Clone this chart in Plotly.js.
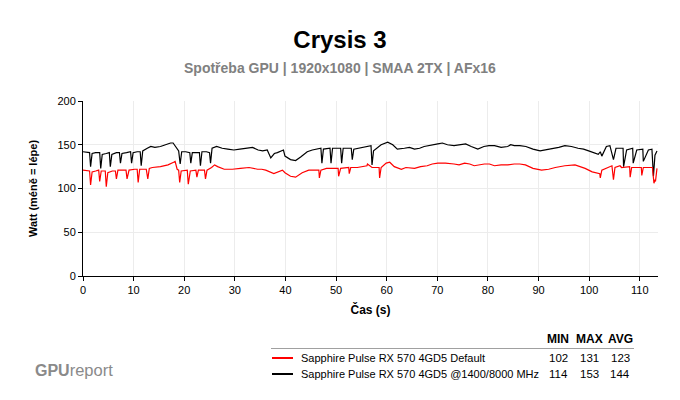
<!DOCTYPE html>
<html><head><meta charset="utf-8">
<script src="https://cdn.plot.ly/plotly-3.0.1.min.js"></script>
<style>html,body{margin:0;padding:0;background:#fff}#chart{width:680px;height:400px}</style>
</head><body><div id="chart"></div>
<script>
const chartTitle = 'Crysis 3';
const chartSubtitle = 'Spotřeba GPU | 1920x1080 | SMAA 2TX | AFx16';
const xTitle = 'Čas (s)';
const yTitle = 'Watt (méně = lépe)';
const seriesNames = ['Sapphire Pulse RX 570 4GD5 Default', 'Sapphire Pulse RX 570 4GD5 @1400/8000 MHz'];
const seriesColors = ['#ff0000', '#000000'];
const statHeaders = ['MIN', 'MAX', 'AVG'];
const minVals = [102, 114];
const maxVals = [131, 153];
const avgVals = [123, 144];
const xTicks = [0, 10, 20, 30, 40, 50, 60, 70, 80, 90, 100, 110];
const yTicks = [0, 50, 100, 150, 200];

const defaultTime = [0, 1.3, 1.5, 1.8, 2.5, 3.1, 3.3, 3.6, 4.4, 4.6,
 4.9, 5.8, 6.4, 6.6, 6.9, 8.1, 8.5, 8.7, 9.1, 10.2,
 10.7, 10.9, 11.2, 12.5, 12.8, 13.1, 13.7, 15.3, 16.8, 17.9,
 18.2, 18.6, 18.9, 19.1, 19.4, 20.6, 20.8, 21.2, 22.3, 22.5,
 22.8, 24.0, 24.2, 24.5, 25.4, 26.0, 26.6, 27.9, 29.5, 31.1,
 32.8, 34.5, 35.3, 36.1, 37.1, 37.7, 39.4, 39.9, 41.0, 42.0,
 43.3, 44.6, 46.6, 46.7, 47.0, 48.1, 50.4, 50.5, 50.9, 52.5,
 52.6, 52.9, 54.2, 56.1, 56.2, 57.1, 58.5, 58.6, 58.9, 59.9,
 60.6, 61.5, 62.9, 63.8, 65.5, 66.7, 68.0, 69.0, 70.1, 71.6,
 73.3, 74.3, 75.4, 76.4, 77.3, 78.3, 79.3, 80.3, 81.3, 82.6,
 83.9, 85.2, 86.3, 87.4, 88.9, 90.6, 92.0, 93.3, 95.2, 97.2,
 98.3, 99.2, 100.6, 101.5, 102.1, 102.2, 102.5, 104.5, 104.8, 105.1,
 106.1, 106.4, 108.0, 108.1, 108.4, 110.3, 110.4, 110.7, 111.7, 112.5,
 112.8, 113.0, 113.1, 113.4];
const defaultWatt = [121, 120, 104, 119, 120, 121, 108, 120, 120, 102,
 118, 120, 120, 111, 121, 121, 121, 111, 121, 122,
 122, 107, 122, 122, 111, 123, 124, 125, 127, 130,
 131, 122, 121, 107, 120, 121, 105, 120, 121, 113,
 121, 121, 111, 121, 124, 127, 125, 122, 122, 123,
 124, 122, 122, 121, 118, 117, 121, 118, 114, 113,
 118, 121, 121, 112, 121, 123, 123, 114, 123, 124,
 117, 124, 124, 126, 128, 124, 124, 112, 124, 129,
 130, 125, 122, 124, 123, 125, 126, 128, 129, 129,
 128, 127, 129, 128, 126, 127, 128, 128, 126, 127,
 127, 128, 128, 127, 123, 121, 122, 124, 126, 127,
 125, 123, 119, 118, 117, 112, 121, 126, 110, 124,
 126, 124, 125, 113, 124, 124, 115, 124, 124, 124,
 106, 110, 108, 123];

const ocTime = [0, 0.8, 1.3, 1.5, 1.8, 2.5, 3.3, 3.5, 3.8, 4.6,
 5.2, 5.4, 5.7, 6.6, 7.2, 7.4, 7.7, 8.6, 9.4, 9.6,
 9.9, 10.7, 11.3, 11.5, 11.8, 12.7, 13.4, 14.2, 15.3, 16.3,
 17.3, 17.8, 18.5, 18.9, 19.2, 19.5, 20.3, 21.1, 21.3, 21.6,
 22.4, 23.0, 23.2, 23.5, 24.4, 25.0, 25.2, 25.5, 26.4, 27.5,
 28.6, 29.8, 31.0, 32.4, 33.5, 34.6, 35.5, 36.4, 37.1, 37.8,
 38.4, 39.6, 39.9, 41.0, 42.0, 43.0, 44.3, 45.3, 47.0, 47.2,
 47.5, 48.8, 49.0, 49.3, 50.9, 51.1, 51.4, 53.0, 53.2, 53.5,
 54.4, 56.1, 56.9, 57.1, 57.4, 58.9, 60.2, 61.2, 62.1, 63.5,
 64.5, 65.5, 66.5, 67.4, 68.8, 70.1, 71.0, 72.0, 73.3, 74.6,
 75.6, 76.7, 77.3, 78.0, 79.2, 80.2, 81.3, 82.6, 83.9, 84.5,
 85.2, 86.3, 87.5, 88.9, 90.3, 91.4, 92.5, 94.0, 95.2, 96.5,
 97.8, 98.9, 99.9, 100.9, 101.8, 102.2, 102.5, 103.4, 104.1, 104.8,
 105.3, 106.7, 106.8, 107.4, 108.6, 108.7, 109.4, 110.6, 110.7, 111.7,
 112.4, 112.7, 113.0, 113.4];
const ocWatt = [142, 141, 141, 125, 140, 141, 141, 123, 139, 140,
 141, 125, 139, 141, 141, 129, 140, 141, 142, 129,
 141, 142, 142, 126, 143, 146, 148, 147, 148, 150,
 152, 152, 146, 143, 128, 142, 142, 141, 129, 141,
 141, 141, 126, 142, 142, 141, 129, 146, 148, 146,
 145, 144, 145, 146, 147, 144, 143, 144, 135, 140,
 141, 144, 137, 133, 132, 136, 142, 144, 146, 129,
 145, 146, 129, 146, 146, 129, 146, 146, 133, 145,
 146, 148, 149, 127, 143, 150, 153, 150, 145, 146,
 147, 145, 146, 148, 150, 151, 152, 150, 149, 150,
 151, 148, 147, 145, 148, 149, 149, 147, 148, 150,
 149, 149, 148, 145, 143, 144, 145, 147, 149, 148,
 146, 145, 143, 141, 139, 142, 137, 148, 149, 133,
 146, 146, 125, 144, 146, 129, 144, 145, 131, 144,
 145, 114, 138, 143];

// plot area geometry in pixels (for placing the stats table outside the plot)
const W = 680, H = 400, L = 83, R = 22, T = 101, B = 124;
const pw = W - L - R, ph = H - T - B;
const px = v => (v - L) / pw;
const py = v => (H - B - v) / ph;

const FONT = 'Liberation Sans, Arial, sans-serif';

const traces = [
  {x: ocTime, y: ocWatt, name: seriesNames[1], type: 'scatter', mode: 'lines',
   line: {color: seriesColors[1], width: 1.2}, hoverinfo: 'skip'},
  {x: defaultTime, y: defaultWatt, name: seriesNames[0], type: 'scatter', mode: 'lines',
   line: {color: seriesColors[0], width: 1.2}, hoverinfo: 'skip'}
];

const annotations = [];
const shapes = [];
annotations.push({xref: 'paper', yref: 'paper', x: px(340), y: py(68), xanchor: 'center', yanchor: 'middle',
  text: '<b>' + chartSubtitle + '</b>', showarrow: false, font: {family: FONT, size: 14, color: '#808080'}});
annotations.push({xref: 'paper', yref: 'paper', x: px(33), y: py(370), xanchor: 'left', yanchor: 'middle',
  text: '<b>GPU</b><span style="font-size:16.5px">report</span>', showarrow: false,
  font: {family: FONT, size: 16, color: '#8a8a8a'}});
const colX = [558, 589, 620];
statHeaders.forEach((h, i) => annotations.push({xref: 'paper', yref: 'paper', x: px(colX[i]), y: py(339),
  xanchor: 'center', yanchor: 'middle', text: '<b>' + h + '</b>', showarrow: false,
  font: {family: FONT, size: 12, color: '#000'}}));
shapes.push({type: 'line', xref: 'paper', yref: 'paper', x0: px(271), x1: px(634), y0: py(348.5), y1: py(348.5),
  line: {color: '#a0a0a0', width: 1}});
const rowY = [358, 374];
seriesNames.forEach((n, r) => {
  shapes.push({type: 'line', xref: 'paper', yref: 'paper', x0: px(272), x1: px(293), y0: py(rowY[r]), y1: py(rowY[r]),
    line: {color: seriesColors[r], width: 2}});
  annotations.push({xref: 'paper', yref: 'paper', x: px(299), y: py(rowY[r]), xanchor: 'left', yanchor: 'middle',
    text: n, showarrow: false, font: {family: FONT, size: 11, color: '#000'}});
  [minVals[r], maxVals[r], avgVals[r]].forEach((v, i) => annotations.push({xref: 'paper', yref: 'paper',
    x: px(colX[i]), y: py(rowY[r]), xanchor: 'center', yanchor: 'middle', text: String(v), showarrow: false,
    font: {family: FONT, size: 11.5, color: '#000'}}));
});

const layout = {
  width: W, height: H,
  margin: {l: L, r: R, t: T, b: B},
  paper_bgcolor: '#fff', plot_bgcolor: '#fff',
  showlegend: false,
  title: {text: '<b>' + chartTitle + '</b>', x: 0.5, xanchor: 'center', xref: 'container',
    y: 1 - 40 / H, yanchor: 'middle', yref: 'container', font: {family: FONT, size: 24, color: '#000'}},
  xaxis: {range: [0, 113.6], tickvals: xTicks, ticktext: xTicks.map(String),
    showline: true, linecolor: '#000', linewidth: 1, ticks: 'outside', ticklen: 4, tickcolor: '#000',
    showgrid: true, gridcolor: '#ececec', gridwidth: 1, zeroline: false,
    tickfont: {family: FONT, size: 11, color: '#000'},
    title: {text: '<b>' + xTitle + '</b>', font: {family: FONT, size: 12, color: '#000'}, standoff: 10}},
  yaxis: {range: [0, 200], tickvals: yTicks, ticktext: yTicks.map(String),
    showline: true, linecolor: '#000', linewidth: 1, ticks: 'outside', ticklen: 4, tickcolor: '#000',
    showgrid: true, gridcolor: '#ececec', gridwidth: 1, zeroline: false,
    tickfont: {family: FONT, size: 11, color: '#000'},
    title: {text: '<b>' + yTitle + '</b>', font: {family: FONT, size: 11, color: '#000'}, standoff: 17}},
  annotations: annotations,
  shapes: shapes
};

Plotly.newPlot('chart', traces, layout, {staticPlot: true, displayModeBar: false});
</script>
</body></html>
